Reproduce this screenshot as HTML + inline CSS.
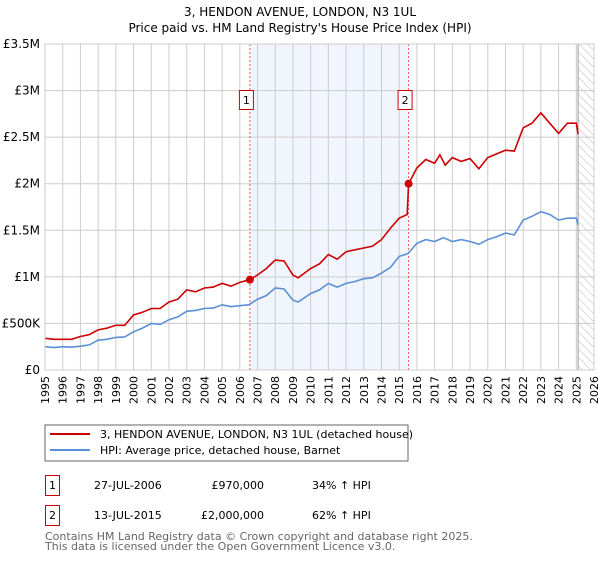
<!DOCTYPE html>
<html><head><meta charset="utf-8"><style>
body{margin:0;background:#fff;font-family:"DejaVu Sans","Liberation Sans",sans-serif;}
svg text{font-family:"DejaVu Sans","Liberation Sans",sans-serif;}
</style></head><body>
<svg id="chart" width="600" height="560" xmlns="http://www.w3.org/2000/svg">
<defs><pattern id="hatch" width="6" height="6" patternUnits="userSpaceOnUse" patternTransform="rotate(-45)"><line x1="0" y1="0" x2="0" y2="6" stroke="#bbb" stroke-width="1"/></pattern></defs>
<text x="300" y="16" text-anchor="middle" font-size="12" fill="#000">3, HENDON AVENUE, LONDON, N3 1UL</text>
<text x="300" y="32" text-anchor="middle" font-size="12" fill="#000">Price paid vs. HM Land Registry's House Price Index (HPI)</text>
<g id="plot"></g>
<g>
<rect x="45" y="425" width="363" height="36" fill="#fff" stroke="#666"/>
<line x1="50" y1="434" x2="90" y2="434" stroke="#cc0000" stroke-width="2"/>
<text x="100" y="438" font-size="11">3, HENDON AVENUE, LONDON, N3 1UL (detached house)</text>
<line x1="50" y1="450" x2="90" y2="450" stroke="#5b8fd6" stroke-width="2"/>
<text x="100" y="454" font-size="11">HPI: Average price, detached house, Barnet</text>
</g>
<g font-size="11">
<rect x="45.5" y="475.5" width="14" height="20" fill="#fff" stroke="#cc0000"/>
<text x="52.5" y="489" text-anchor="middle">1</text>
<text x="94" y="489">27-JUL-2006</text>
<text x="264" y="489" text-anchor="end">£970,000</text>
<text x="312" y="489">34% ↑ HPI</text>
<rect x="45.5" y="505.5" width="14" height="20" fill="#fff" stroke="#cc0000"/>
<text x="52.5" y="519" text-anchor="middle">2</text>
<text x="94" y="519">13-JUL-2015</text>
<text x="264" y="519" text-anchor="end">£2,000,000</text>
<text x="312" y="519">62% ↑ HPI</text>
</g>
<text x="45" y="540" font-size="11" fill="#666">Contains HM Land Registry data © Crown copyright and database right 2025.</text>
<text x="45" y="550" font-size="11" fill="#666">This data is licensed under the Open Government Licence v3.0.</text>
</svg>
<script>
const hpiYears=[1995,1995.5,1996,1996.5,1997,1997.5,1998,1998.5,1999,1999.5,2000,2000.5,2001,2001.5,2002,2002.5,2003,2003.5,2004,2004.5,2005,2005.5,2006,2006.5,2007,2007.5,2008,2008.5,2009,2009.3,2010,2010.5,2011,2011.5,2012,2012.5,2013,2013.5,2014,2014.5,2015,2015.5,2016,2016.5,2017,2017.5,2018,2018.5,2019,2019.5,2020,2020.5,2021,2021.5,2022,2022.5,2023,2023.5,2024,2024.5,2025,2025.1];
const hpiValues=[0.25,0.24,0.25,0.245,0.255,0.27,0.32,0.33,0.35,0.355,0.41,0.45,0.50,0.49,0.54,0.57,0.63,0.64,0.66,0.665,0.70,0.68,0.69,0.70,0.76,0.80,0.88,0.87,0.75,0.73,0.82,0.86,0.93,0.89,0.93,0.95,0.98,0.99,1.04,1.10,1.22,1.25,1.36,1.40,1.38,1.42,1.38,1.40,1.38,1.35,1.40,1.43,1.47,1.45,1.61,1.65,1.70,1.67,1.61,1.63,1.63,1.56];
const priceYears=[1995,1995.5,1996,1996.5,1997,1997.5,1998,1998.5,1999,1999.5,2000,2000.5,2001,2001.5,2002,2002.5,2003,2003.5,2004,2004.5,2005,2005.5,2006,2006.57,2007,2007.5,2008,2008.5,2009,2009.3,2010,2010.5,2011,2011.5,2012,2012.5,2013,2013.5,2014,2014.5,2015,2015.45,2015.53,2016,2016.5,2017,2017.3,2017.6,2018,2018.5,2019,2019.5,2020,2020.5,2021,2021.5,2022,2022.5,2023,2023.5,2024,2024.5,2025,2025.1];
const priceValues=[0.34,0.33,0.33,0.33,0.36,0.38,0.43,0.45,0.48,0.48,0.59,0.62,0.66,0.66,0.73,0.76,0.86,0.84,0.88,0.89,0.93,0.90,0.94,0.97,1.02,1.09,1.18,1.17,1.02,0.99,1.09,1.14,1.24,1.19,1.27,1.29,1.31,1.33,1.40,1.52,1.63,1.67,2.00,2.17,2.26,2.22,2.31,2.20,2.28,2.24,2.27,2.16,2.28,2.32,2.36,2.35,2.60,2.65,2.76,2.65,2.54,2.65,2.65,2.53];
const yTicks=[0,0.5,1,1.5,2,2.5,3,3.5];
const yTickLabels=["£0","£500K","£1M","£1.5M","£2M","£2.5M","£3M","£3.5M"];
const xTicks=[1995,1996,1997,1998,1999,2000,2001,2002,2003,2004,2005,2006,2007,2008,2009,2010,2011,2012,2013,2014,2015,2016,2017,2018,2019,2020,2021,2022,2023,2024,2025,2026];
const saleYears=[2006.57,2015.53];
const saleValues=[0.97,2.0];
const saleLabels=["1","2"];

const NS="http://www.w3.org/2000/svg";
const X0=45,X1=594,Y0=370,Y1=44;
const xs=y=>X0+(y-1995)/(2026-1995)*(X1-X0);
const ys=v=>Y0-v/3.5*(Y0-Y1);
const g=document.getElementById('plot');
function mk(tag,attrs,parent){const e=document.createElementNS(NS,tag);for(const k in attrs)e.setAttribute(k,attrs[k]);(parent||g).appendChild(e);return e;}
// shaded ownership region
const sh=mk('rect',{x:xs(saleYears[0]),y:Y1,width:xs(saleYears[1])-xs(saleYears[0]),height:Y0-Y1,fill:'#eef3fd',opacity:0.8});


const ht=mk('rect',{x:xs(2025.1),y:Y1,width:X1-xs(2025.1),height:Y0-Y1,fill:'url(#hatch)'});


xTicks.forEach(t=>{const l=mk('line',{x1:xs(t),x2:xs(t),y1:Y1,y2:Y0,stroke:'#ccc'});


const tx=mk('text',{x:0,y:0,'font-size':11,'text-anchor':'end',transform:`translate(${xs(t)+4},${Y0+6}) rotate(-90)`});tx.textContent=t;

});
yTicks.forEach((t,i)=>{const l=mk('line',{x1:X0,x2:X1,y1:ys(t),y2:ys(t),stroke:'#ccc'});


const tx=mk('text',{x:40,y:ys(t)+4,'font-size':12,'text-anchor':'end'});tx.textContent=yTickLabels[i];

});
mk('line',{x1:xs(2025.1),x2:xs(2025.1),y1:Y1,y2:Y0,stroke:'#999'});
saleYears.forEach((s,i)=>{const l=mk('line',{x1:xs(s),x2:xs(s),y1:Y1,y2:Y0,stroke:'#e55','stroke-dasharray':'2,2'});

});
const pts=(xa,va)=>xa.map((x,i)=>xs(x).toFixed(1)+','+ys(va[i]).toFixed(1)).join(' ');
const hl=mk('polyline',{points:pts(hpiYears,hpiValues),fill:'none',stroke:'#5b8fd6','stroke-width':1.6});


const pl=mk('polyline',{points:pts(priceYears,priceValues),fill:'none',stroke:'#cc0000','stroke-width':1.6});


saleYears.forEach((s,i)=>{const c=mk('circle',{cx:xs(s),cy:ys(saleValues[i]),r:4,fill:'#cc0000'});


const r=mk('rect',{x:xs(s)-10.5,y:90.5,width:14,height:19,fill:'#fff',stroke:'#cc0000'});


const t=mk('text',{x:xs(s)-3.5,y:104,'font-size':11,'text-anchor':'middle'});t.textContent=saleLabels[i];

});
mk('rect',{x:X0,y:Y1,width:X1-X0,height:Y0-Y1,fill:'none',stroke:'#ccc'});
</script>
</body></html>
